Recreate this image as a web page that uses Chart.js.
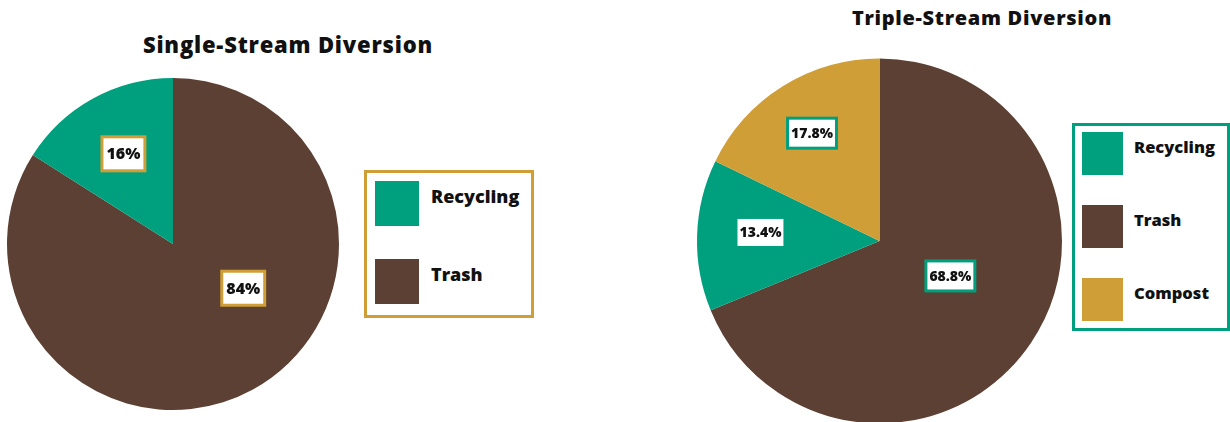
<!DOCTYPE html>
<html>
<head>
<meta charset="utf-8">
<script src="https://cdn.jsdelivr.net/npm/chart.js@4.4.1/dist/chart.umd.min.js"></script>
<style>
  html, body { margin: 0; padding: 0; background: #fff; width: 1230px; height: 422px; overflow: hidden; }
  body { position: relative; font-family: "Open Sans", "DejaVu Sans", sans-serif; }
  .title { position: absolute; text-align: center; font-weight: 800; color: #111; white-space: nowrap; line-height: 1.2; }
  .wrap { position: absolute; }
  .legend { position: absolute; box-sizing: border-box; background: #fff; }
  .legend .item { display: flex; align-items: flex-start; }
  .legend .sw { flex: none; }
  .legend .tx { font-weight: 800; color: #111; white-space: nowrap; line-height: 1; }
</style>
</head>
<body>
<div class="title" id="t1" style="left:88px; width:400px; top:31px; font-size:22px; letter-spacing:0.8px;"></div>
<div class="title" id="t2" style="left:782px; width:400px; top:6px; font-size:20px; letter-spacing:0.7px;"></div>

<div class="wrap" style="left:0px; top:0px; width:346px; height:422px;"><canvas id="c1"></canvas></div>
<div class="wrap" style="left:690px; top:50px; width:380px; height:400px;"><canvas id="c2"></canvas></div>

<div class="legend" id="l1" style="left:364px; top:170px; width:170px; height:148px; border:3px solid #D09E37; padding:8px 0 0 8px;"></div>
<div class="legend" id="l2" style="left:1072px; top:123px; width:158px; height:208px; border:3px solid #00A07F; padding:6px 0 0 7px;"></div>

<script>
// ---------- data ----------
const singleTitle = "Single-Stream Diversion";
const singleCategories = ["Trash", "Recycling"];
const singleValues = [84, 16];

const tripleTitle = "Triple-Stream Diversion";
const tripleCategories = ["Trash", "Recycling", "Compost"];
const tripleValues = [68.8, 13.4, 17.8];

const legendOrder = ["Recycling", "Trash", "Compost"];

// ---------- styles ----------
const COLORS = { Recycling: "#00A07F", Trash: "#5C4033", Compost: "#D09E37" };
const GOLD = "#D09E37", GREEN = "#00A07F";
const FONT = '"Open Sans", "DejaVu Sans", sans-serif';

const boxLabels = {
  id: 'boxLabels',
  afterDatasetsDraw(chart, args, opts) {
    const ctx = chart.ctx;
    const meta = chart.getDatasetMeta(0);
    const ds = chart.data.datasets[0];
    ctx.save();
    meta.data.forEach((arc, i) => {
      const p = arc.getProps(['x', 'y', 'startAngle', 'endAngle', 'outerRadius'], true);
      const place = (opts.place && opts.place[i]) || {};
      const a = (p.startAngle + p.endAngle) / 2 + (place.shift || 0) * Math.PI / 180;
      const r = p.outerRadius * (place.r != null ? place.r : 0.6);
      const cx = p.x + Math.cos(a) * r, cy = p.y + Math.sin(a) * r;
      const txt = ds.data[i].toFixed(opts.decimals) + '%';
      ctx.font = opts.font;
      const tw = ctx.measureText(txt).width;
      const bw = opts.borderWidth;
      const w = tw + 2 * opts.padX, h = opts.height;
      const x0 = cx - w / 2, y0 = cy - h / 2;
      ctx.fillStyle = opts.borderColor;
      ctx.fillRect(x0, y0, w, h);
      ctx.fillStyle = '#fff';
      ctx.fillRect(x0 + bw, y0 + bw, w - 2 * bw, h - 2 * bw);
      ctx.fillStyle = '#111';
      ctx.textAlign = 'center';
      ctx.textBaseline = 'middle';
      ctx.fillText(txt, cx, cy + 1);
    });
    ctx.restore();
  }
};

const htmlLegend = {
  id: 'htmlLegend',
  afterUpdate(chart, args, opts) {
    const box = document.getElementById(opts.containerID);
    box.innerHTML = '';
    const items = chart.options.plugins.legend.labels.generateLabels(chart);
    items.sort((a, b) => legendOrder.indexOf(a.text) - legendOrder.indexOf(b.text));
    items.forEach((it, k) => {
      const row = document.createElement('div');
      row.className = 'item';
      if (k > 0) row.style.marginTop = opts.gap + 'px';
      const sw = document.createElement('div');
      sw.className = 'sw';
      sw.style.width = opts.swW + 'px';
      sw.style.height = opts.swH + 'px';
      sw.style.background = it.fillStyle;
      const tx = document.createElement('div');
      tx.className = 'tx';
      tx.style.fontSize = opts.fontSize + 'px';
      tx.style.marginLeft = opts.textGap + 'px';
      tx.style.marginTop = opts.textTop + 'px';
      tx.textContent = it.text;
      row.appendChild(sw);
      row.appendChild(tx);
      box.appendChild(row);
    });
  }
};

function makePie(id, cats, vals, padding, labelOpts, legendOpts) {
  return new Chart(document.getElementById(id), {
    type: 'pie',
    data: {
      labels: cats,
      datasets: [{
        data: vals,
        backgroundColor: cats.map(c => COLORS[c]),
        borderWidth: 0
      }]
    },
    options: {
      responsive: true,
      maintainAspectRatio: false,
      animation: false,
      layout: { padding },
      plugins: {
        legend: { display: false },
        tooltip: { enabled: false },
        boxLabels: labelOpts,
        htmlLegend: legendOpts
      }
    },
    plugins: [boxLabels, htmlLegend]
  });
}

document.getElementById('t1').textContent = singleTitle;
document.getElementById('t2').textContent = tripleTitle;

makePie('c1', singleCategories, singleValues,
  { left: 7, right: 7, top: 78, bottom: 12 },
  { decimals: 0, font: '800 16px ' + FONT, padX: 6, height: 37, borderWidth: 3, borderColor: GOLD,
    place: [{ r: 0.5, shift: -29 }, { r: 0.62, shift: 0 }] },
  { containerID: 'l1', swW: 44, swH: 45, gap: 33, textGap: 12, textTop: 6, fontSize: 18 });

makePie('c2', tripleCategories, tripleValues,
  { left: 7, right: 8, top: 8, bottom: 26 },
  { decimals: 1, font: '800 14px ' + FONT, padX: 5, height: 33, borderWidth: 3, borderColor: GREEN,
    place: [{ r: 0.433, shift: -7.6 }, { r: 0.654, shift: 2.3 }, { r: 0.697, shift: 0 }] },
  { containerID: 'l2', swW: 41, swH: 43, gap: 30, textGap: 11, textTop: 7, fontSize: 16.5 });
</script>
</body>
</html>
